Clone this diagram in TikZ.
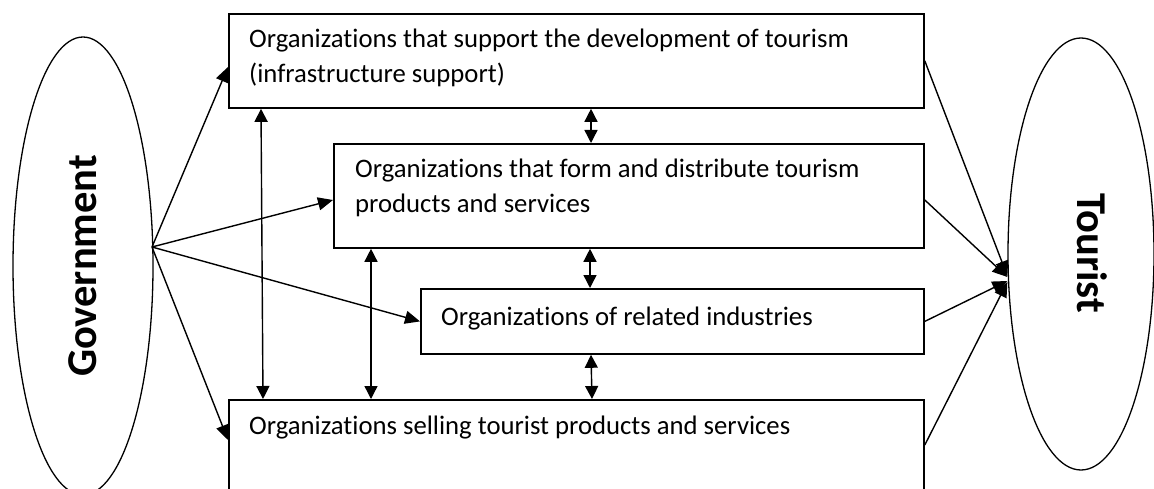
\documentclass[tikz,border=0pt]{standalone}
\usepackage{fontspec}
\setmainfont{Carlito}[RawFeature=-liga]
\usetikzlibrary{arrows.meta,calc,shapes.geometric}
\begin{document}
\begin{tikzpicture}[x=1pt,y=-1pt,
  orgbox/.style={draw,line width=1.8pt,minimum width=695pt,inner sep=0pt,anchor=north west},
  orgtext/.style={anchor=base west,inner sep=0pt,align=left,font=\fontsize{26.7}{35}\selectfont},
  oval/.style={draw,ellipse,line width=1.3pt,inner sep=0pt},
  bigtext/.style={inner sep=0pt,font=\fontsize{42.5}{42}\selectfont\bfseries},
  arr/.style={line width=1.4pt,-{Triangle[length=15pt,width=13pt]}},
  darr/.style={line width=1.4pt,{Triangle[length=13pt,width=13pt]}-{Triangle[length=13pt,width=13pt]}}]
\clip (0,0) rectangle (1154,489);
\fill[white] (0,0) rectangle (1154,489);
% ellipses
\node[oval,minimum width=140pt,minimum height=458pt] (gov) at (83,266) {};
\node[bigtext,rotate=90] (govt) at (82.5,266) {Government};
\node[oval,minimum width=146pt,minimum height=432pt] (tour) at (1081,254) {};
\node[bigtext,rotate=-90] (tourt) at (1092,253) {Tourist};
% boxes
\node[orgbox,minimum height=94pt] (b1) at (228,13) {};
\node[orgbox,minimum width=590pt,minimum height=104pt] (b2) at (333,143) {};
\node[orgbox,minimum width=503pt,minimum height=65pt] (b3) at (420,288) {};
\node[orgbox,minimum height=130pt] (b4) at (228,399) {};
% texts (base = baseline of last line)
\node[orgtext] (t1) at (249,83) {Organizations that support the development of tourism\\(infrastructure support)};
\node[orgtext] (t2) at (355,213) {Organizations that form and distribute tourism\\products and services};
\node[orgtext] (t3) at (441,325) {Organizations of related industries};
\node[orgtext] (t4) at (249,434) {Organizations selling tourist products and services};
% government arrows
\coordinate (gA) at (152,247);
\draw[arr] (gA) -- ($(b1.north west)+(0,54)$);
\draw[arr] (gA) -- ($(b2.north west)+(0,57)$);
\draw[arr] (gA) -- (b3.west);
\draw[arr] (gA) -- ($(b4.north west)+(0,41)$);
% tourist arrows
\draw[arr] (b1.east) -- ($(tour.west)+(0,22)$);
\draw[arr] ($(b2.north east)+(0,57)$) -- ($(tour.west)+(0,23)$);
\draw[arr] (b3.east) -- ($(tour.west)+(0,27)$);
\draw[arr] ($(b4.north east)+(0,46)$) -- ($(tour.west)+(0,28)$);
% double arrows
\draw[darr] ($(b1.south west)+(33,0)$) -- ($(b4.north west)+(35,0)$);
\draw[darr] ($(b2.south west)+(38,0)$) -- ($(b4.north west)+(143,0)$);
\draw[darr] ($(b1.south west)+(363,0)$) -- ($(b2.north west)+(258,0)$);
\draw[darr] ($(b2.south west)+(257,0)$) -- ($(b3.north west)+(170,0)$);
\draw[darr] ($(b3.south west)+(171,0)$) -- ($(b4.north west)+(364,0)$);
\end{tikzpicture}
\end{document}
